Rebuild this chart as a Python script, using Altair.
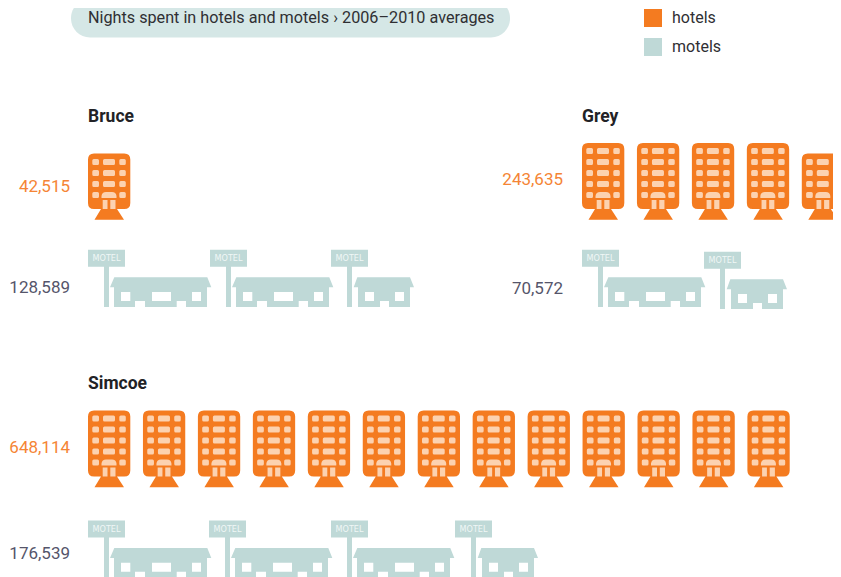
import math
import altair as alt
import pandas as pd

# --- data ---
regions = ["Bruce", "Grey", "Simcoe"]
hotel_nights = [42515, 243635, 648114]
motel_nights = [128589, 70572, 176539]
nights_per_icon = 50000
title_text = "Nights spent in hotels and motels \u203a 2006\u20132010 averages"
series_names = ["hotels", "motels"]

# --- styling and layout ---
ORANGE, PEACH, TEAL, PILL = "#f47b20", "#fcd2b0", "#bfd9d7", "#d5e7e6"
INK, SLATE, AMBER, SIGN_TEXT = "#2f2f33", "#55556a", "#f58535", "#f0f7f6"
FONT = "Roboto"
region_pos = {"Bruce": (88, 117), "Grey": (582, 117), "Simcoe": (88, 384)}
hotel_row = {"Bruce": (88, 209), "Grey": (582, 209), "Simcoe": (88, 476.5)}
motel_row = {"Bruce": ([88, 210, 331], 307, 0), "Grey": ([582, 704], 307, 2),
             "Simcoe": ([88, 209, 331, 455], 577.7, 0)}
value_pos = {"Bruce": (70, 187, 288), "Grey": (563, 180, 289), "Simcoe": (70, 448, 554)}
HOTEL_PITCH = 54.95


def rr(x0, y0, x1, y1, r=0.0):
    if r <= 0:
        return f"M{x0},{y0}L{x1},{y0}L{x1},{y1}L{x0},{y1}Z"
    return (f"M{x0+r},{y0}L{x1-r},{y0}Q{x1},{y0},{x1},{y0+r}L{x1},{y1-r}Q{x1},{y1},{x1-r},{y1}"
            f"L{x0+r},{y1}Q{x0},{y1},{x0},{y1-r}L{x0},{y0+r}Q{x0},{y0},{x0+r},{y0}Z")


def hotel_body(floors):
    top = -66 if floors == 5 else -55.5
    return rr(0, top, 42.3, 0, 6) + "M13,0L29,0L36,10.7L6.5,10.7Z"


def hotel_windows(floors):
    p = ""
    for k in range(floors):
        y0 = -17 - 11 * k
        p += rr(4.3, y0, 11, y0 + 6, 1.5) + rr(31.3, y0, 37.8, y0 + 6, 1.5)
        if k > 0:
            p += rr(15, y0, 27, y0 + 6, 1.5)
    # canopy and doors of the ground floor
    p += "M13.5,-11L13.5,-13Q14,-17,18,-17L24,-17Q28,-17,28.5,-13L28.5,-11Z"
    p += rr(14.7, -9, 19.5, 0) + rr(22.3, -9, 27.5, 0)
    return p


SIGN = rr(0, -57.3, 37, -40.3) + rr(16, -40.3, 21, 0)
MOTEL_LONG = SIGN + "M26.3,-29.7L119.3,-29.7L123.3,-19.7L119,-19.7L119,0L26,0L26,-19.7L22,-19.7Z"
MOTEL_SHORT = SIGN + "M26.3,-29.7L79,-29.7L83,-19.7L79,-19.7L79,0L27,0L27,-19.7L22.7,-19.7Z"
HOLES_LONG = (rr(33, -15, 42.3, -6) + rr(47, -6, 57, 0) + rr(64, -15, 83, -6)
              + rr(88.7, -6, 98, 0) + rr(104, -15, 113, -6))
HOLES_SHORT = rr(34, -15, 43, -6) + rr(49, -6, 58, 0) + rr(64, -15, 73, -6)

icons = []
for name, h_val, m_val in zip(regions, hotel_nights, motel_nights):
    x0, yb = hotel_row[name]
    n = math.ceil(h_val / nights_per_icon)
    for i in range(n):
        frac = min(1.0, h_val / nights_per_icon - i)
        floors = 5 if frac > 0.9 else 4
        icons.append(dict(series="hotels", x=x0 + i * HOTEL_PITCH, y=yb,
                          body=hotel_body(floors), detail=hotel_windows(floors)))
    xs, yb, drop = motel_row[name]
    whole = int(m_val // nights_per_icon)
    for i, x in enumerate(xs):
        long_icon = i < whole
        y = yb if long_icon else yb + drop
        icons.append(dict(series="motels", x=x, y=y,
                          body=MOTEL_LONG if long_icon else MOTEL_SHORT,
                          detail=HOLES_LONG if long_icon else HOLES_SHORT))
icons = pd.DataFrame(icons)

labels = pd.DataFrame([dict(x=region_pos[r][0], y=region_pos[r][1], text=r) for r in regions])
values_h = pd.DataFrame([dict(x=value_pos[r][0], y=value_pos[r][1], text=f"{v:,}")
                         for r, v in zip(regions, hotel_nights)])
values_m = pd.DataFrame([dict(x=value_pos[r][0], y=value_pos[r][2], text=f"{v:,}")
                         for r, v in zip(regions, motel_nights)])
signs = icons[icons.series == "motels"].assign(sx=lambda d: d.x + 18.5, sy=lambda d: d.y - 48.6, text="MOTEL")

x_scale = alt.Scale(domain=[8, 833], range=[0, 825])
y_scale = alt.Scale(domain=[8, 577], range=[0, 569])
X = alt.X("x:Q", scale=x_scale, axis=None)
Y = alt.Y("y:Q", scale=y_scale, axis=None)

pill = alt.Chart(pd.DataFrame([dict(x=71, x2=510, y=-1, y2=37.5)])).mark_rect(
    color=PILL, cornerRadius=19, clip=True
).encode(x=X, x2="x2:Q", y=Y, y2="y2:Q")

title = alt.Chart(pd.DataFrame([dict(x=88, y=18, text=title_text)])).mark_text(
    font=FONT, fontSize=16.2, color=INK, align="left", baseline="middle"
).encode(x=X, y=Y, text="text:N")

body = alt.Chart(icons).mark_point(filled=True, size=4, opacity=1, strokeWidth=0, clip=True).encode(
    x=X, y=Y, shape=alt.Shape("body:N", scale=None),
    color=alt.Color("series:N",
                    scale=alt.Scale(domain=series_names, range=[ORANGE, TEAL]),
                    legend=alt.Legend(orient="none", legendX=636, legendY=1, title=None,
                                      symbolType="square", symbolSize=324, symbolOpacity=1,
                                      symbolStrokeWidth=0,
                                      labelFont=FONT, labelFontSize=16, labelColor=INK,
                                      labelOffset=10, rowPadding=11)),
)
hotel_detail = alt.Chart(icons[icons.series == "hotels"]).mark_point(
    filled=True, size=4, opacity=1, strokeWidth=0, color=PEACH, clip=True
).encode(x=X, y=Y, shape=alt.Shape("detail:N", scale=None))
motel_detail = alt.Chart(icons[icons.series == "motels"]).mark_point(
    filled=True, size=4, opacity=1, strokeWidth=0, color="#ffffff", clip=True
).encode(x=X, y=Y, shape=alt.Shape("detail:N", scale=None))

sign_text = alt.Chart(signs).mark_text(
    font="DejaVu Sans Condensed", fontSize=9, color=SIGN_TEXT, align="center", baseline="middle"
).encode(x=alt.X("sx:Q", scale=x_scale, axis=None), y=alt.Y("sy:Q", scale=y_scale, axis=None), text="text:N")

region_text = alt.Chart(labels).mark_text(
    font=FONT, fontSize=17.5, fontWeight="bold", color="#222226", align="left", baseline="middle"
).encode(x=X, y=Y, text="text:N")
hotel_values = alt.Chart(values_h).mark_text(
    font=FONT, fontSize=17, color=AMBER, align="right", baseline="middle"
).encode(x=X, y=Y, text="text:N")
motel_values = alt.Chart(values_m).mark_text(
    font=FONT, fontSize=17, color=SLATE, align="right", baseline="middle"
).encode(x=X, y=Y, text="text:N")

chart = alt.layer(
    pill, title, body, hotel_detail, motel_detail, sign_text, region_text, hotel_values, motel_values
).properties(
    width=825, height=569, padding=0,
    autosize=alt.AutoSizeParams(type="none", contains="padding"),
).configure_view(stroke=None)

chart.save("out.html", embed_options={"renderer": "svg", "actions": False})
